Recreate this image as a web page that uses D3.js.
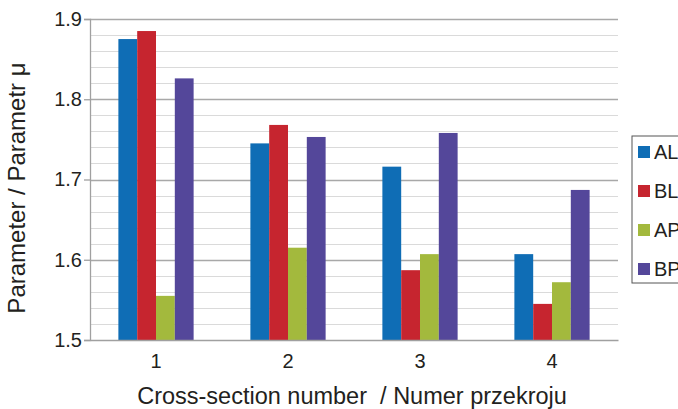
<!DOCTYPE html>
<html>
<head>
<meta charset="utf-8">
<script src="https://cdn.jsdelivr.net/npm/d3@7"></script>
<style>
  body { margin: 0; background: #fff; }
  text { font-family: "Liberation Sans", Arial, sans-serif; fill: #231f20; }
</style>
</head>
<body>
<script>
// data
var sections = ["1", "2", "3", "4"]
var seriesNames = ["AL", "BL", "AP", "BP"]
var AL = [1.875, 1.745, 1.716, 1.607]
var BL = [1.885, 1.768, 1.587, 1.545]
var AP = [1.555, 1.615, 1.607, 1.572]
var BP = [1.826, 1.753, 1.758, 1.687]
var yTicks = [1.5, 1.6, 1.7, 1.8, 1.9]

var colors = ["#0f6db5", "#c6252f", "#a3b93d", "#54479a"]
var values = [AL, BL, AP, BP]

var width = 678, height = 409
var margin = {top: 19, right: 60, bottom: 69, left: 90}
var plotW = width - margin.left - margin.right,
    plotH = height - margin.top - margin.bottom

var svg = d3.select("body").append("svg")
    .attr("width", width)
    .attr("height", height)

var chart = svg.append("g")
    .attr("transform", "translate(" + margin.left + "," + margin.top + ")")

// scales
var x0 = d3.scaleBand().domain(sections).range([0, plotW]).paddingInner(0).paddingOuter(0)
var x1 = d3.scaleBand().domain(seriesNames).range([0, x0.bandwidth() * 0.57]).padding(0)
var y = d3.scaleLinear().domain([1.5, 1.9]).range([plotH, 0])

// minor gridlines every 0.02
var minor = d3.range(1.52, 1.9, 0.02).filter(function(v) { return Math.abs(v * 10 - Math.round(v * 10)) > 0.01 })
chart.selectAll(".minor")
  .data(minor)
  .enter().append("line")
    .attr("x1", 0).attr("x2", plotW)
    .attr("y1", function(d) { return Math.round(y(d)) + 0.5 })
    .attr("y2", function(d) { return Math.round(y(d)) + 0.5 })
    .style("stroke", "#dadada")
    .style("stroke-width", 1.2)

// major gridlines
chart.selectAll(".major")
  .data(yTicks.slice(1))
  .enter().append("line")
    .attr("x1", 0).attr("x2", plotW)
    .attr("y1", function(d) { return Math.round(y(d)) + 0.5 })
    .attr("y2", function(d) { return Math.round(y(d)) + 0.5 })
    .style("stroke", "#a8a8a8")
    .style("stroke-width", 1.3)

// bars
var groups = chart.selectAll(".group")
  .data(sections)
  .enter().append("g")
    .attr("transform", function(d) { return "translate(" + (x0(d) + x0.bandwidth() * 0.215) + ",0)" })

groups.selectAll("rect")
  .data(function(d, i) { return seriesNames.map(function(s, k) { return {s: s, v: values[k][i], c: colors[k]} }) })
  .enter().append("rect")
    .attr("x", function(d) { return x1(d.s) })
    .attr("width", x1.bandwidth())
    .attr("y", function(d) { return y(d.v) })
    .attr("height", function(d) { return plotH - y(d.v) })
    .style("fill", function(d) { return d.c })

// y axis
var yAxis = chart.append("g")
    .call(d3.axisLeft(y).tickValues(yTicks).tickFormat(d3.format(".1f")).tickSize(6).tickPadding(2))
yAxis.select(".domain").style("stroke", "#a0a0a0").style("stroke-width", 1.3)
yAxis.selectAll(".tick line").style("stroke", "#a0a0a0").style("stroke-width", 1.3)
yAxis.selectAll(".tick text").style("font-size", "20px").style("fill", "#231f20")
  .attr("font-family", "Liberation Sans, Arial, sans-serif")

// x axis
var xAxis = chart.append("g")
    .attr("transform", "translate(0," + plotH + ")")
    .call(d3.axisBottom(x0).tickSize(0).tickPadding(14))
xAxis.select(".domain").style("stroke", "#a0a0a0").style("stroke-width", 1.3)
xAxis.selectAll(".tick text").style("font-size", "20px").style("fill", "#231f20")
  .attr("font-family", "Liberation Sans, Arial, sans-serif")

// axis titles
svg.append("text")
    .attr("text-anchor", "middle")
    .attr("transform", "translate(25,188)rotate(-90)")
    .style("font-size", "24px")
    .text("Parameter / Parametr μ")

svg.append("text")
    .attr("text-anchor", "middle")
    .attr("x", 352)
    .attr("y", 404)
    .style("font-size", "23.5px")
    .style("white-space", "pre")
    .text("Cross-section number  / Numer przekroju")

// legend
var legend = svg.append("g").attr("transform", "translate(632,136)")
legend.append("rect")
    .attr("width", 60).attr("height", 147)
    .style("fill", "#fff")
    .style("stroke", "#555")
    .style("stroke-width", 1)

var items = legend.selectAll(".item")
  .data(seriesNames)
  .enter().append("g")
    .attr("transform", function(d, i) { return "translate(6," + (10 + i * 39) + ")" })
items.append("rect")
    .attr("width", 12).attr("height", 12)
    .style("fill", function(d, i) { return colors[i] })
items.append("text")
    .attr("x", 16).attr("y", 13)
    .style("font-size", "20px")
    .text(function(d) { return d })
</script>
</body>
</html>
